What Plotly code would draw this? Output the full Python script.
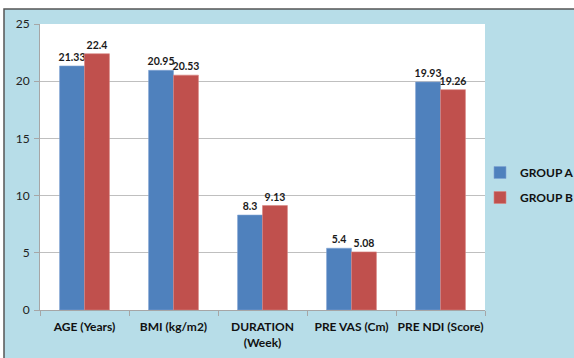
import plotly.graph_objects as go

categories = ["AGE (Years)", "BMI (kg/m2)", "DURATION<br>(Week)", "PRE VAS (Cm)", "PRE NDI (Score)"]
group_a = [21.33, 20.95, 8.3, 5.4, 19.93]
group_b = [22.4, 20.53, 9.13, 5.08, 19.26]
labels_a = ["21.33", "20.95", "8.3", "5.4", "19.93"]
labels_b = ["22.4", "20.53", "9.13", "5.08", "19.26"]

W, H = 574, 358
ml, mr, mt, mb = 40, 89, 24, 48
pw, ph = W - ml - mr, H - mt - mb

def px(x):
    return (x - ml) / pw

def py(y):
    return (H - mb - y) / ph

font_main = "Lato, 'Open Sans', sans-serif"

fig = go.Figure()
fig.add_trace(go.Bar(
    name="GROUP A", x=categories, y=group_a, text=labels_a, legendgroup="a",
    textposition="outside", cliponaxis=False, constraintext="none",
    marker=dict(color="#4F81BD", line=dict(color="#7FA3D3", width=0.6)),
    textfont=dict(family=font_main, size=10.5, color="#1a1a1a", weight="bold"),
))
fig.add_trace(go.Bar(
    name="GROUP B", x=categories, y=group_b, text=labels_b, legendgroup="b",
    textposition="outside", cliponaxis=False, constraintext="none",
    marker=dict(color="#C0504D", line=dict(color="#D98482", width=0.6)),
    textfont=dict(family=font_main, size=10.5, color="#1a1a1a", weight="bold"),
))

fig.update_layout(
    width=W, height=H,
    margin=dict(l=ml, r=mr, t=mt, b=mb, pad=0, autoexpand=False),
    paper_bgcolor="white",
    plot_bgcolor="white",
    barmode="group",
    bargap=0.44,
    bargroupgap=0,
    font=dict(family=font_main, size=12, color="#222"),
    showlegend=True,
    legend=dict(
        x=px(480), y=py(185), xanchor="left", yanchor="middle",
        font=dict(family=font_main, size=12, color="#111", weight="bold"),
        bgcolor="rgba(0,0,0,0)", itemwidth=30, tracegroupgap=6,
    ),
    shapes=[
        dict(type="rect", xref="paper", yref="paper", layer="below",
             x0=px(4), x1=px(W + 10), y0=py(H + 10), y1=py(9),
             fillcolor="#B7DDE8", line=dict(color="#555555", width=1.5)),
        dict(type="rect", xref="paper", yref="paper", layer="below",
             x0=0, x1=1, y0=0, y1=1,
             fillcolor="white", line=dict(width=0)),
    ],
    xaxis=dict(
        automargin=False,
        showline=True, linecolor="#A6A6A6", linewidth=1,
        ticks="outside", tickson="boundaries", ticklen=5, tickcolor="#A6A6A6",
        tickangle=0, ticklabelstandoff=6,
        tickfont=dict(family=font_main, size=12, color="#111", weight="bold"),
        showgrid=False,
    ),
    yaxis=dict(
        automargin=False,
        range=[0, 25], tickvals=[0, 5, 10, 15, 20, 25],
        showline=True, linecolor="#A6A6A6", linewidth=1,
        ticks="outside", ticklen=5, tickcolor="#A6A6A6",
        ticklabelstandoff=2,
        gridcolor="#BFBFBF", gridwidth=1,
        tickfont=dict(family=font_main, size=12, color="#222"),
        zeroline=False,
    ),
)

fig.write_html(
    "out.html",
    config={"displayModeBar": False},
    post_script="document.body.style.margin='0';document.body.style.padding='0';",
)
